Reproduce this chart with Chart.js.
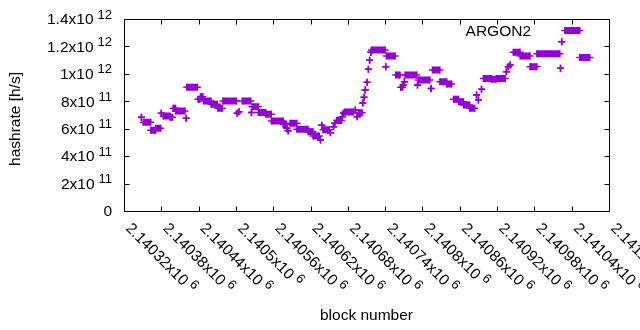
<!DOCTYPE html>
<html>
<head>
<meta charset="utf-8">
<script src="https://cdn.jsdelivr.net/npm/chart.js@4.4.1/dist/chart.umd.min.js"></script>
<style>
html, body { margin: 0; padding: 0; background: #fff; }
</style>
</head>
<body>
<canvas id="chart" width="640" height="330"></canvas>
<script>
// ARGON2 hashrate (start block, end block, rate in 1e11 h/s)
var runStart = [2140348, 2140351, 2140363, 2140371, 2140380, 2140383, 2140394, 2140399, 2140403, 2140420,
  2140421, 2140439, 2140443, 2140448, 2140460, 2140471, 2140479, 2140502, 2140505, 2140510,
  2140525, 2140526, 2140536, 2140548, 2140557, 2140576, 2140582, 2140584, 2140587, 2140598,
  2140616, 2140624, 2140636, 2140638, 2140640, 2140652, 2140657, 2140659, 2140662, 2140671,
  2140673, 2140675, 2140692, 2140695, 2140697, 2140704, 2140706, 2140708, 2140711, 2140713,
  2140715, 2140717, 2140718, 2140741, 2140742, 2140757, 2140765, 2140769, 2140771, 2140772,
  2140792, 2140793, 2140814, 2140816, 2140828, 2140839, 2140850, 2140858, 2140866, 2140876,
  2140887, 2140890, 2140895, 2140898, 2140911, 2140919, 2140935, 2140938, 2140941, 2140946,
  2140957, 2140973, 2140984, 2141022, 2141024, 2141029, 2141053];
var runEnd = [2140348, 2140363, 2140371, 2140379, 2140380, 2140394, 2140398, 2140403, 2140418, 2140420,
  2140438, 2140442, 2140447, 2140460, 2140470, 2140478, 2140501, 2140502, 2140505, 2140524,
  2140525, 2140536, 2140548, 2140557, 2140576, 2140581, 2140582, 2140584, 2140598, 2140616,
  2140624, 2140634, 2140636, 2140638, 2140650, 2140652, 2140657, 2140659, 2140670, 2140671,
  2140673, 2140689, 2140692, 2140695, 2140703, 2140704, 2140706, 2140708, 2140711, 2140713,
  2140715, 2140717, 2140740, 2140741, 2140756, 2140764, 2140768, 2140769, 2140771, 2140791,
  2140792, 2140812, 2140814, 2140828, 2140839, 2140847, 2140858, 2140866, 2140876, 2140884,
  2140887, 2140890, 2140895, 2140911, 2140919, 2140933, 2140935, 2140938, 2140941, 2140957,
  2140973, 2140984, 2141021, 2141022, 2141024, 2141053, 2141069];
var runRate = [6.83, 6.47, 5.88, 6.03, 7.12, 6.93, 6.83, 7.49, 7.29, 6.76,
  9.02, 8.14, 8.33, 8.02, 7.78, 7.49, 8.02, 7.12, 7.24, 8.02,
  7.19, 7.6, 7.19, 7.05, 6.56, 6.3, 6.03, 5.85, 6.39, 5.96,
  5.78, 5.47, 5.18, 6.25, 5.93, 5.71, 6.15, 6.39, 6.6, 6.88,
  7.12, 7.22, 7.36, 6.88, 7.17, 7.88, 8.3, 8.82, 9.38, 10.33,
  11.0, 11.57, 11.74, 10.52, 11.3, 9.91, 9.02, 9.19, 9.43, 9.91,
  9.19, 9.55, 8.94, 10.28, 9.43, 9.26, 8.14, 7.97, 7.73, 7.49,
  8.46, 8.09, 8.87, 9.67, 9.6, 9.67, 10.16, 10.52, 10.64, 11.57,
  11.3, 10.52, 11.47, 10.4, 12.34, 13.17, 11.2];

var yTicks = [0, 2e11, 4e11, 6e11, 8e11, 1e12, 1.2e12, 1.4e12];
var yTickBase = ["0", "2x10", "4x10", "6x10", "8x10", "1x10", "1.2x10", "1.4x10"];
var yTickExp = ["", "11", "11", "11", "11", "12", "12", "12"];
var xTicks = [2140320, 2140380, 2140440, 2140500, 2140560, 2140620, 2140680,
  2140740, 2140800, 2140860, 2140920, 2140980, 2141040, 2141100];
var xTickBase = ["2.14032x10", "2.14038x10", "2.14044x10", "2.1405x10", "2.14056x10", "2.14062x10", "2.14068x10",
  "2.14074x10", "2.1408x10", "2.14086x10", "2.14092x10", "2.14098x10", "2.14104x10", "2.1411x10"];
var xTickExp = "6";

var FONT = "'Liberation Sans', Arial, sans-serif";
var runPoints = [];
for (var i = 0; i < runStart.length; i++) {
  runPoints.push({ x: runStart[i], y: runRate[i] * 1e11 });
  runPoints.push({ x: runEnd[i], y: runRate[i] * 1e11 });
  runPoints.push({ x: runEnd[i], y: null }); // break between runs
}

// label with a gnuplot style superscript
function supText(ctx, base, exp, x, y) {
  ctx.font = "15.5px " + FONT;
  ctx.fillText(base, x, y);
  if (exp) {
    var w = ctx.measureText(base).width;
    ctx.font = "13px " + FONT;
    ctx.fillText(exp, x + w + 4, y - 5);
  }
}
function supWidth(ctx, base, exp) {
  ctx.font = "15.5px " + FONT;
  var w = ctx.measureText(base).width;
  if (exp) {
    ctx.font = "13px " + FONT;
    w += 4 + ctx.measureText(exp).width;
  }
  return w;
}

var gnuFrame = {
  id: 'gnuFrame',
  beforeDatasetsDraw: function(chart) {
    var ctx = chart.ctx, a = chart.chartArea;
    var xs = chart.scales.x, ys = chart.scales.y;
    var l = Math.round(a.left) + 0.5, r = Math.round(a.right) + 0.5;
    var t = Math.round(a.top) + 0.5, b = Math.round(a.bottom) + 0.5;
    ctx.save();
    ctx.strokeStyle = '#000';
    ctx.lineWidth = 1;
    ctx.strokeRect(l, t, r - l, b - t);
    ctx.beginPath();
    yTicks.forEach(function(v) {
      var py = Math.round(ys.getPixelForValue(v)) + 0.5;
      ctx.moveTo(l, py); ctx.lineTo(l + 5, py);
      ctx.moveTo(r, py); ctx.lineTo(r - 5, py);
    });
    xTicks.forEach(function(v) {
      var px = Math.round(xs.getPixelForValue(v)) + 0.5;
      ctx.moveTo(px, b); ctx.lineTo(px, b - 5);
      ctx.moveTo(px, t); ctx.lineTo(px, t + 5);
    });
    ctx.stroke();
    ctx.restore();
  },
  afterDraw: function(chart) {
    var ctx = chart.ctx, a = chart.chartArea;
    var xs = chart.scales.x, ys = chart.scales.y;
    ctx.save();
    ctx.fillStyle = '#000';
    ctx.textBaseline = 'middle';
    ctx.textAlign = 'left';
    yTicks.forEach(function(v, i) {
      var w = supWidth(ctx, yTickBase[i], yTickExp[i]);
      supText(ctx, yTickBase[i], yTickExp[i], 112 - w, ys.getPixelForValue(v) + 1);
    });
    xTicks.forEach(function(v, i) {
      ctx.save();
      ctx.translate(xs.getPixelForValue(v) + 4, a.bottom + 15);
      ctx.rotate(Math.PI / 4);
      supText(ctx, xTickBase[i], xTickExp, 0, 0);
      ctx.restore();
    });
    ctx.font = "15.5px " + FONT;
    ctx.textAlign = 'center';
    ctx.fillText("block number", (a.left + a.right) / 2, 316);
    ctx.save();
    ctx.translate(16, (a.top + a.bottom) / 2 + 4);
    ctx.rotate(-Math.PI / 2);
    ctx.fillText("hashrate [h/s]", 0, 0);
    ctx.restore();
    ctx.textAlign = 'right';
    ctx.fillText(chart.data.datasets[0].label, 531, 32);
    ctx.restore();
  }
};

new Chart(document.getElementById("chart"), {
  type: 'line',
  data: {
    datasets: [{
      label: "ARGON2",
      data: runPoints,
      borderColor: "#9400d3",
      backgroundColor: "#9400d3",
      borderWidth: 7,
      borderCapStyle: 'butt',
      spanGaps: false,
      tension: 0,
      fill: false,
      pointStyle: 'cross',
      pointRadius: 3.5,
      pointBorderWidth: 1.5,
      pointBorderColor: "#9400d3"
    }]
  },
  options: {
    responsive: false,
    animation: false,
    layout: { padding: { left: 0, right: 31, top: 19, bottom: 0 } },
    plugins: { legend: { display: false }, tooltip: { enabled: false } },
    scales: {
      x: {
        type: 'linear', min: 2140320, max: 2141100,
        grid: { display: false }, border: { display: false },
        ticks: { display: false },
        afterFit: function(s) { s.height = 119; }
      },
      y: {
        min: 0, max: 1.4e12,
        grid: { display: false }, border: { display: false },
        ticks: { display: false },
        afterFit: function(s) { s.width = 124; }
      }
    }
  },
  plugins: [gnuFrame]
});
</script>
</body>
</html>
